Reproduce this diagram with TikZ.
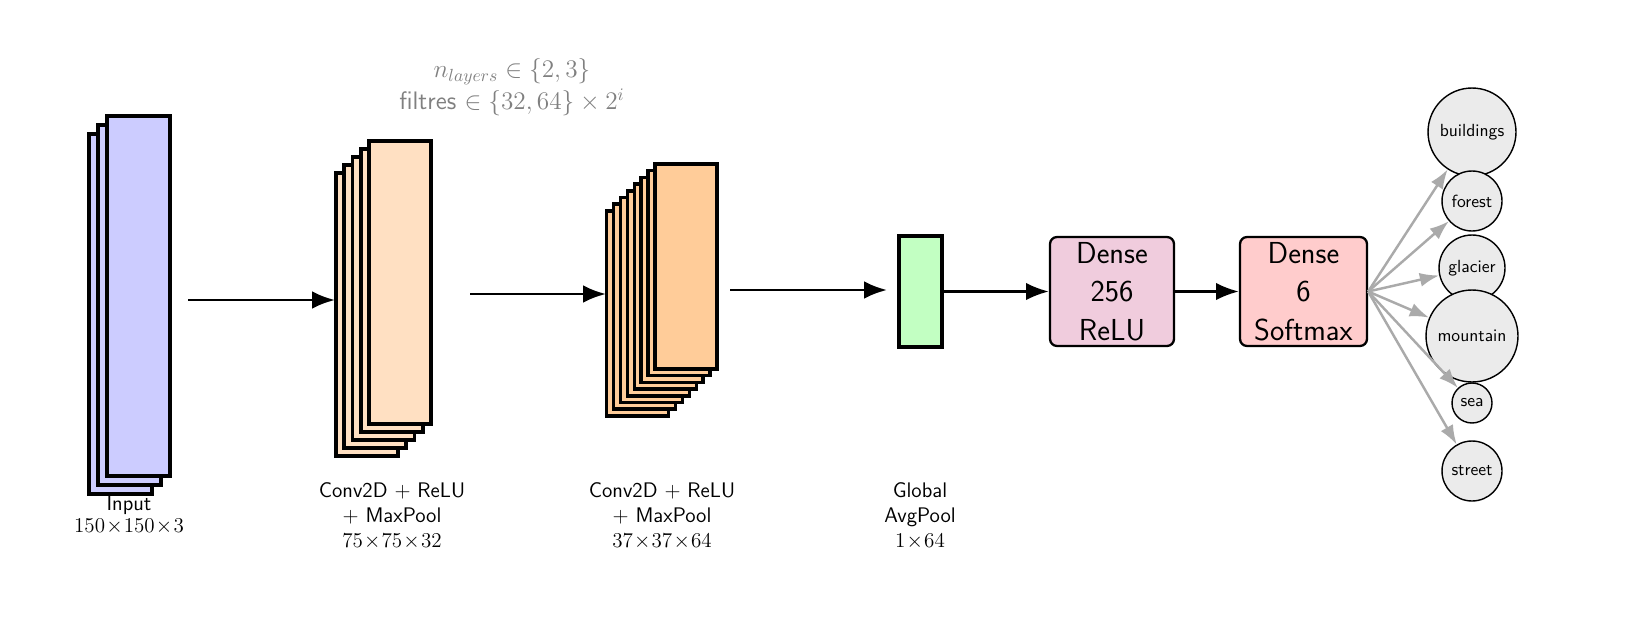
\documentclass[tikz,border=0pt]{standalone}
\usetikzlibrary{arrows.meta}
\begin{document}
\begin{tikzpicture}[x=0.02cm,y=-0.02cm,
 lay/.style={draw=black,line width=2pt},
 arr/.style={line width=1.6pt,-{Latex[length=13pt,width=10pt]}},
 garr/.style={draw={rgb,255:red,170;green,170;blue,170},line width=1.4pt,-{Latex[length=11pt,width=8pt]}},
 dense/.style={draw=black,line width=1.3pt,rounded corners=4pt,minimum width=2.48cm,minimum height=2.18cm,font=\sffamily\LARGE,align=center,inner sep=0pt},
 cls/.style={circle,draw=black,line width=0.8pt,fill={rgb,255:red,235;green,235;blue,235},font=\sffamily,inner sep=0pt},
 lab/.style={font=\sffamily\large,align=center,inner sep=0pt}]
\definecolor{inp}{RGB}{204,204,255}
\definecolor{c1}{RGB}{255,224,194}
\definecolor{c2}{RGB}{255,204,153}
% input
\foreach \i in {2,1,0}{
 \draw[lay,fill=inp] (107-9*\i,116+9*\i) rectangle (170-9*\i,476+9*\i);}
% conv1
\foreach \i in {4,3,2,1,0}{
 \draw[lay,fill=c1] (369-8.25*\i,141+8*\i) rectangle (431-8.25*\i,424+8*\i);}
% conv2
\foreach \i in {7,6,5,4,3,2,1,0}{
 \draw[lay,fill=c2] (655-6.9*\i,164+6.7*\i) rectangle (717-6.9*\i,369+6.7*\i);}
\coordinate (a1s) at (188,300); \coordinate (a1e) at (335,300);
\coordinate (a2s) at (470,294); \coordinate (a2e) at (606,294);
\coordinate (a3s) at (730,290); \coordinate (a3e) at (887,290);
\draw[arr] (a1s) -- (a1e);
\draw[arr] (a2s) -- (a2e);
\draw[arr] (a3s) -- (a3e);
% global pool
\node[draw=black,line width=2pt,fill={rgb,255:red,194;green,255;blue,194},minimum width=0.86cm,minimum height=2.22cm,inner sep=0pt] (gp) at (920.5,291.5) {};
\node[dense,fill={rgb,255:red,240;green,204;blue,221}] (d1) at (1112,291.5) {Dense\\256\\ReLU};
\node[dense,fill={rgb,255:red,255;green,204;blue,204},minimum width=2.54cm] (d2) at (1303.5,291.5) {Dense\\6\\Softmax};
\draw[arr] (gp) -- (d1);
\draw[arr] (d1) -- (d2);
% classes
\node[cls,minimum size=1.76cm] (c-b) at (1472,132) {buildings};
\node[cls,minimum size=1.2cm] (c-f) at (1472,201) {forest};
\node[cls,minimum size=1.32cm] (c-g) at (1472,268) {glacier};
\node[cls,minimum size=1.84cm] (c-m) at (1472,336) {mountain};
\node[cls,minimum size=0.8cm] (c-s) at (1472,403) {sea};
\node[cls,minimum size=1.2cm] (c-t) at (1472,471) {street};
\foreach \c in {c-b,c-f,c-g,c-m,c-s,c-t}{\draw[garr] (d2.east) -- (\c);}
% labels
\node[lab] (l0) at (129,505) {Input};
\node[lab] (l0b) at (129,527) {$150\!\times\!150\!\times\!3$};
\node[lab] (l1) at (392,516) {Conv2D + ReLU\\+ MaxPool\\$75\!\times\!75\!\times\!32$};
\node[lab] (l2) at (662,516) {Conv2D + ReLU\\+ MaxPool\\$37\!\times\!37\!\times\!64$};
\node[lab] (l3) at (920,516) {Global\\AvgPool\\$1\!\times\!64$};
\node[lab,text={rgb,255:red,128;green,128;blue,128},font=\sffamily\Large] (t1) at (512,72) {$n_{layers}\in\{2,3\}$};
\node[lab,text={rgb,255:red,128;green,128;blue,128},font=\sffamily\Large] (t2) at (512,102) {filtres $\in\{32,64\}\times 2^i$};
\pgfresetboundingbox
\useasboundingbox (0,0) rectangle (1643,639);
\end{tikzpicture}
\end{document}
